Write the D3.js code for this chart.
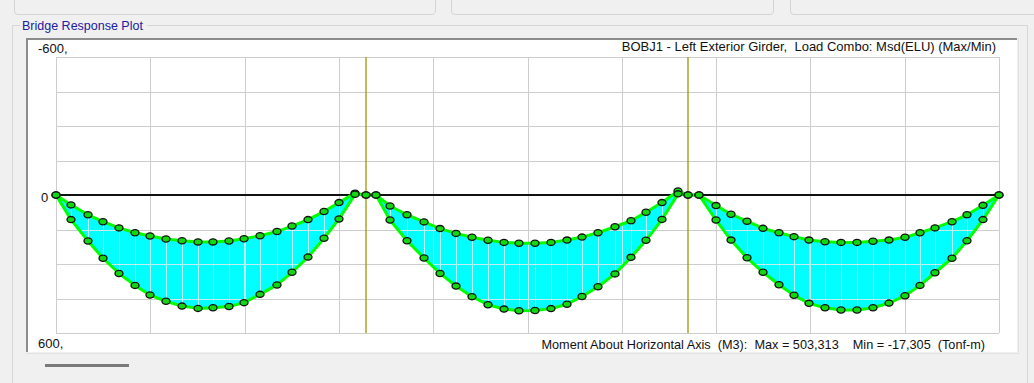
<!DOCTYPE html>
<html lang="en">
	<head>
		<meta charset="utf-8">
		<title>Bridge Response Plot</title>
		<script type="text/javascript" src="https://cdn.jsdelivr.net/npm/d3@7"></script>
		<style type="text/css">
			body { margin: 0; background: #f0f0f0; }
			svg { display: block; font-family: "Liberation Sans", Arial, sans-serif; }
			.lbl { font-size: 13px; fill: #111; white-space: pre; }
			.foot { font-size: 12.7px; }
			.grp { font-size: 12.5px; fill: #2020a0; }
			.grid { stroke: #cdcdcd; stroke-width: 1; shape-rendering: crispEdges; }
			.inner { stroke: #c2eeee; stroke-width: 1; shape-rendering: crispEdges; }
			.stn { stroke: #c4ffff; stroke-width: 1; shape-rendering: crispEdges; }
			.curve { fill: none; stroke: #00ff00; stroke-width: 3; stroke-linejoin: round; }
			.dot { fill: #12d812; stroke: #111; stroke-width: 1.3; }
		</style>
	</head>
	<body>
		<svg width="1034" height="383" id="plot"></svg>

		<script>
			// stations along the girder (m)
			var stations = [
				0, 1.5, 3.2, 4.7, 6.3, 7.9, 9.4, 11.0, 12.6, 14.2, 15.7, 17.3, 18.8, 20.4, 22.1, 23.6, 25.2, 26.8, 28.3, 29.9,
				31.0,
				32.0, 33.4, 35.1, 36.8, 38.4, 40.0, 41.6, 43.2, 44.8, 46.3, 47.9, 49.5, 51.1, 52.6, 54.2, 55.9, 57.5, 59.0, 60.6, 62.2,
				63.2,
				64.3, 66.0, 67.5, 69.1, 70.7, 72.3, 73.8, 75.3, 76.9, 78.5, 80.1, 81.7, 83.3, 84.9, 86.4, 87.9, 89.6, 91.1, 92.7, 94.3
			];
			// envelope, Tonf-m
			var minMoment = [
				0, 43, 86, 116, 143, 164, 178, 191, 199, 204, 204, 200, 190, 177, 159, 135, 107, 72, 33, -8,
				0,
				0, 48, 86, 117, 146, 167, 184, 197, 206, 210, 210, 206, 196, 183, 164, 138, 112, 75, 33, -17.305,
				0,
				0, 46, 84, 114, 145, 164, 181, 196, 203, 206, 206, 201, 196, 184, 164, 143, 116, 86, 45, 0
			];
			var maxMoment = [
				0, 107, 200, 275, 341, 393, 435, 462, 483, 493, 490, 485, 468, 432, 391, 336, 270, 188, 104, -3,
				0,
				0, 109, 199, 274, 341, 396, 442, 477, 496, 503.313, 502, 494, 475, 441, 399, 343, 271, 197, 106, -5,
				0,
				0, 109, 196, 273, 336, 390, 436, 471, 490, 500, 500, 490, 470, 438, 393, 338, 275, 199, 107, 0
			];
			var supports = [31.0, 63.2];
			var girderLength = 94.3;
			var yTicks = [-600, 0, 600];
			var yTickLabels = ['-600,', '0', '600,'];
			var titleText = 'BOBJ1 - Left Exterior Girder,  Load Combo: Msd(ELU) (Max/Min)';
			var footText = 'Moment About Horizontal Axis  (M3):  Max = 503,313    Min = -17,305  (Tonf-m)';

			var svg = d3.select('#plot');

			// window chrome
			var chrome = svg.append('g');
			[[14, 435], [451, 773], [790, 1040]].forEach(function(p){
				chrome.append('path')
					.attr('d', 'M' + (p[0] + .5) + ',0 V11 Q' + (p[0] + .5) + ',14.5 ' + (p[0] + 4) + ',14.5 H' + (p[1] - 4) + ' Q' + (p[1] + .5) + ',14.5 ' + (p[1] + .5) + ',11 V0')
					.attr('fill', 'none')
					.attr('stroke', '#d4d4d4');
			});
			chrome.append('path')
				.attr('d', 'M20,25.5 H12.5 V383 M147,25.5 H1027.5 V383')
				.attr('fill', 'none')
				.attr('stroke', '#d6d6d6');
			chrome.append('text')
				.attr('class', 'grp')
				.attr('x', 22)
				.attr('y', 30)
				.text('Bridge Response Plot');
			chrome.append('rect')
				.attr('x', 26).attr('y', 38)
				.attr('width', 991).attr('height', 314)
				.attr('fill', '#fff');
			chrome.append('path')
				.attr('d', 'M27,352 V39 H1017')
				.attr('fill', 'none')
				.attr('stroke', '#8c8c8c')
				.attr('stroke-width', 2);
			chrome.append('path')
				.attr('d', 'M26,353.5 H1018.5 V38')
				.attr('fill', 'none')
				.attr('stroke', '#e2e2e2');
			chrome.append('line')
				.attr('x1', 45).attr('x2', 129)
				.attr('y1', 365.5).attr('y2', 365.5)
				.attr('stroke', '#7a7a7a')
				.attr('stroke-width', 3);

			var xScale = d3.scaleLinear()
							.domain([0, girderLength])
							.range([56, 999]);
			var yScale = d3.scaleLinear()
							.domain([-600, 600])
							.range([57, 333]);

			var xGrid = d3.range(0, 11).map(function(i){ return girderLength * i / 10; });
			var yGrid = d3.range(-600, 601, 150);

			var data = stations.map(function(s, i){
				return {s: s, min: minMoment[i], max: maxMoment[i]};
			});

			// grid
			var grid = svg.append('g');
			grid.selectAll('.gx')
				.data(xGrid)
				.enter()
				.append('line')
				.attr('class', 'grid')
				.attr('x1', function(d){ return Math.round(xScale(d)) + .5; })
				.attr('x2', function(d){ return Math.round(xScale(d)) + .5; })
				.attr('y1', yScale(-600))
				.attr('y2', yScale(600));
			grid.selectAll('.gy')
				.data(yGrid)
				.enter()
				.append('line')
				.attr('class', 'grid')
				.attr('x1', xScale(0))
				.attr('x2', xScale(girderLength))
				.attr('y1', function(d){ return Math.round(yScale(d)) + .5; })
				.attr('y2', function(d){ return Math.round(yScale(d)) + .5; });

			// supports
			svg.selectAll('.sup')
				.data(supports)
				.enter()
				.append('line')
				.attr('x1', function(d){ return xScale(d); })
				.attr('x2', function(d){ return xScale(d); })
				.attr('y1', yScale(-600))
				.attr('y2', yScale(600))
				.attr('stroke', '#9c9800')
				.attr('stroke-width', 1.3);

			// envelope fill
			var area = d3.area()
				.x(function(d){ return xScale(d.s); })
				.y0(function(d){ return yScale(d.min); })
				.y1(function(d){ return yScale(d.max); });

			svg.append('clipPath')
				.attr('id', 'env')
				.append('path')
				.attr('d', area(data));

			svg.append('path')
				.attr('d', area(data))
				.attr('fill', '#00ffff');

			var inside = svg.append('g').attr('clip-path', 'url(#env)');
			inside.selectAll('.ix')
				.data(xGrid)
				.enter()
				.append('line')
				.attr('class', 'inner')
				.attr('x1', function(d){ return Math.round(xScale(d)) + .5; })
				.attr('x2', function(d){ return Math.round(xScale(d)) + .5; })
				.attr('y1', yScale(-600))
				.attr('y2', yScale(600));
			inside.selectAll('.iy')
				.data(yGrid)
				.enter()
				.append('line')
				.attr('class', 'inner')
				.attr('x1', xScale(0))
				.attr('x2', xScale(girderLength))
				.attr('y1', function(d){ return Math.round(yScale(d)) + .5; })
				.attr('y2', function(d){ return Math.round(yScale(d)) + .5; });
			inside.selectAll('.st')
				.data(data)
				.enter()
				.append('line')
				.attr('class', 'stn')
				.attr('x1', function(d){ return Math.round(xScale(d.s)) + .5; })
				.attr('x2', function(d){ return Math.round(xScale(d.s)) + .5; })
				.attr('y1', function(d){ return yScale(d.min); })
				.attr('y2', function(d){ return yScale(d.max); });

			// zero line
			svg.append('line')
				.attr('x1', xScale(0))
				.attr('x2', xScale(girderLength))
				.attr('y1', yScale(0))
				.attr('y2', yScale(0))
				.attr('stroke', '#111')
				.attr('stroke-width', 2);

			// curves
			var lineMin = d3.line()
				.x(function(d){ return xScale(d.s); })
				.y(function(d){ return yScale(d.min); });
			var lineMax = d3.line()
				.x(function(d){ return xScale(d.s); })
				.y(function(d){ return yScale(d.max); });
			svg.append('path').attr('class', 'curve').attr('d', lineMin(data));
			svg.append('path').attr('class', 'curve').attr('d', lineMax(data));

			['min', 'max'].forEach(function(k){
				svg.selectAll('.dot' + k)
					.data(data)
					.enter()
					.append('ellipse')
					.attr('class', 'dot')
					.attr('cx', function(d){ return xScale(d.s); })
					.attr('cy', function(d){ return yScale(d[k]); })
					.attr('rx', 4)
					.attr('ry', 3.1);
			});

			// labels
			svg.selectAll('.yl')
				.data(yTicks)
				.enter()
				.append('text')
				.attr('class', 'lbl')
				.attr('x', function(d){ return d === 0 ? 41 : 38; })
				.attr('y', function(d){ return yScale(d) + (d === -600 ? -4 : d === 0 ? 7 : 15); })
				.text(function(d, i){ return yTickLabels[i]; });

			svg.append('text')
				.attr('class', 'lbl')
				.attr('x', 996)
				.attr('y', 51)
				.attr('text-anchor', 'end')
				.text(titleText);
			svg.append('text')
				.attr('class', 'lbl foot')
				.attr('x', 985)
				.attr('y', 349)
				.attr('text-anchor', 'end')
				.text(footText);
		</script>
	</body>
</html>
